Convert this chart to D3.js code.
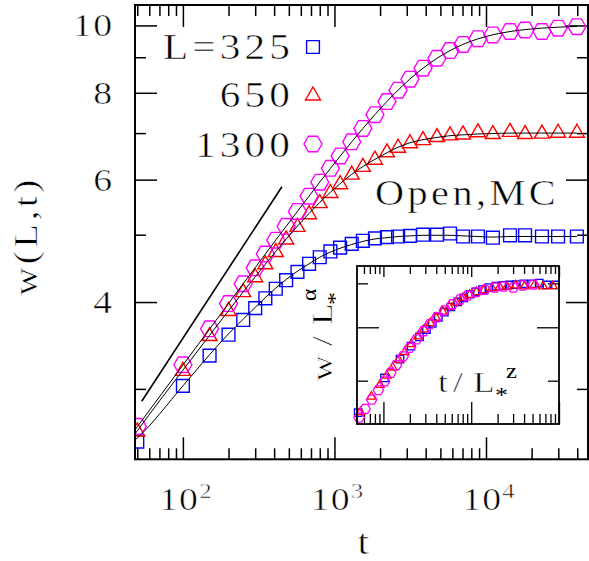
<!DOCTYPE html>
<html>
<head>
<meta charset="utf-8">
<script src="https://cdn.jsdelivr.net/npm/d3@7"></script>
<style>
  html, body { margin: 0; padding: 0; background: #fff; }
  svg { display: block; }
  text { font-family: "Liberation Serif", "Times New Roman", serif; font-weight: normal;
         stroke: #fff; stroke-width: 0.55px; paint-order: normal; }
  tspan.small { stroke: none; }
</style>
</head>
<body>
<svg id="chart" width="589" height="561"></svg>
<script>
// ---- data -------------------------------------------------------------
// sampling times shared by the three system sizes
const times = [50, 100, 150, 200, 250, 300, 350, 410, 480, 570, 680, 800, 940, 1090,
  1300, 1540, 1850, 2220, 2630, 3150, 3840, 4750, 5790, 7050, 8850, 11100, 14400,
  18100, 23400, 29900, 39800];
const sizes = [325, 650, 1300];
const seriesLabels = ["L=325", "650", "1300"];

// interface width w(L,t), Monte Carlo points
const width325 = [2.52, 3.03, 3.35, 3.59, 3.77, 3.92, 4.05, 4.18, 4.30, 4.42, 4.54, 4.64,
  4.73, 4.79, 4.85, 4.90, 4.94, 4.96, 4.97, 4.98, 5.00, 5.00, 5.02, 4.97, 4.97, 4.95,
  4.99, 4.99, 4.97, 4.97, 4.97];
const width650 = [2.61, 3.19, 3.58, 3.89, 4.14, 4.35, 4.54, 4.73, 4.93, 5.14, 5.36, 5.56,
  5.75, 5.92, 6.11, 6.27, 6.42, 6.58, 6.68, 6.78, 6.85, 6.92, 6.96, 6.98, 7.03, 6.99,
  7.04, 6.99, 7.00, 7.02, 7.02];
const width1300 = [2.65, 3.25, 3.66, 3.98, 4.25, 4.48, 4.69, 4.91, 5.14, 5.40, 5.68, 5.95,
  6.23, 6.49, 6.80, 7.11, 7.44, 7.77, 8.07, 8.37, 8.68, 8.97, 9.20, 9.39, 9.57, 9.69,
  9.80, 9.85, 9.80, 9.91, 9.96];

// smooth fitted curves
const fitTimes = [45, 50, 100, 150, 200, 250, 300, 350, 410, 480, 570, 680, 800, 940, 1090,
  1300, 1540, 1850, 2220, 2630, 3150, 3840, 4750, 5790, 7050, 8850, 11100, 14400,
  18100, 23400, 29900, 39800];
const fit325 = [2.50, 2.55, 3.03, 3.36, 3.60, 3.78, 3.93, 4.06, 4.19, 4.31, 4.43, 4.54, 4.64,
  4.72, 4.78, 4.84, 4.89, 4.93, 4.95, 4.97, 4.98, 4.99, 4.99, 4.99, 4.98, 4.97, 4.96,
  4.97, 4.97, 4.97, 4.97, 4.97];
const fit650 = [2.53, 2.611, 3.192, 3.582, 3.887, 4.137, 4.349, 4.535, 4.729, 4.927, 5.143,
  5.364, 5.564, 5.754, 5.920, 6.106, 6.266, 6.418, 6.56, 6.68, 6.78, 6.85, 6.90, 6.94,
  6.96, 6.98, 6.99, 7.00, 7.00, 7.00, 7.00, 7.00];
const fit1300 = [2.565, 2.646, 3.246, 3.658, 3.981, 4.250, 4.483, 4.690, 4.912, 5.140, 5.402,
  5.681, 5.951, 6.226, 6.485, 6.800, 7.109, 7.443, 7.773, 8.071, 8.374, 8.679, 8.970,
  9.200, 9.392, 9.565, 9.694, 9.800, 9.863, 9.912, 9.942, 9.965];

// t^(1/3) guide
const guideTimes = [53.5, 450];
const guideWidth = [2.88, 5.86];

// axis ticks of the main panel
const xMajor = [100, 1000, 10000];
const xMinor = [50, 60, 70, 80, 90, 200, 300, 400, 500, 600, 700, 800, 900,
  2000, 3000, 4000, 5000, 6000, 7000, 8000, 9000, 20000, 30000, 40000];
const yMajor = [4, 6, 8, 10];
const yMinor = [3, 5, 7, 9];
const yTickLabels = ["4", "6", "8", "10"];

// scaling collapse shown in the inset
const lStar = [455, 910, 1820];
const alpha = 0.5;
const zExp = 1.5;
const insetXMajor = [0.01, 0.1, 1];
const insetXMinor = [0.006, 0.007, 0.008, 0.009, 0.02, 0.03, 0.04, 0.05, 0.06, 0.07,
  0.08, 0.09, 0.2, 0.3, 0.4, 0.5, 0.6, 0.7, 0.8, 0.9];
const insetYMajor = [0.186];
const insetYMinor = [0.14, 0.235];

// ---- drawing ------------------------------------------------------------
const svg = d3.select("#chart");
const colors = ["#0000ff", "#ff0000", "#ff00ff"];
const values = [width325, width650, width1300];
const fits = [fit325, fit650, fit1300];
const TEXT_STRETCH = 1.18;

const plot = { left: 135, right: 588, top: 5, bottom: 459.3 };
const x = d3.scaleLog().domain([48.3, 47100]).range([plot.left, plot.right]);
const y = d3.scaleLog().domain([2.376, 10.70]).range([plot.bottom, plot.top]);

// marker outlines, r = overall scale
function markerPath(kind, r) {
  if (kind === 0) {
    const h = 6.4 * r;
    return `M${-h},${-h}H${h}V${h}H${-h}Z`;
  }
  if (kind === 1) {
    return `M0,${-8 * r}L${7.5 * r},${5 * r}L${-7.5 * r},${5 * r}Z`;
  }
  const R = 9 * r, s = R * Math.sqrt(3) / 2;
  return `M${R},0L${R / 2},${s}L${-R / 2},${s}L${-R},0L${-R / 2},${-s}L${R / 2},${-s}Z`;
}

// widened serif text with extra tracking
function textAt(parent, px, py, size, anchor, rotate, stretch, spacing) {
  const g = parent.append("g")
    .attr("transform", `translate(${px},${py}) rotate(${rotate || 0}) scale(${stretch || TEXT_STRETCH},1)`);
  return g.append("text")
    .attr("text-anchor", anchor)
    .attr("font-size", size)
    .attr("letter-spacing", spacing === undefined ? 2 : spacing)
    .attr("fill", "#000");
}

function ticks(parent, axisGen, transform, vals, len, sw) {
  parent.append("g")
    .attr("transform", transform)
    .call(axisGen.tickValues(vals).tickSize(len).tickSizeOuter(0).tickFormat(""))
    .call(g => g.select(".domain").remove())
    .call(g => g.selectAll("line").attr("stroke", "#000").attr("stroke-width", sw));
}

// main panel ticks on all four sides
ticks(svg, d3.axisBottom(x), `translate(0,${plot.bottom})`, xMajor, -22, 1.5);
ticks(svg, d3.axisBottom(x), `translate(0,${plot.bottom})`, xMinor, -11, 1.5);
ticks(svg, d3.axisTop(x), `translate(0,${plot.top})`, xMajor, -22, 1.5);
ticks(svg, d3.axisTop(x), `translate(0,${plot.top})`, xMinor, -11, 1.5);
ticks(svg, d3.axisLeft(y), `translate(${plot.left},0)`, yMajor, -22, 1.5);
ticks(svg, d3.axisLeft(y), `translate(${plot.left},0)`, yMinor, -11, 1.5);
ticks(svg, d3.axisRight(y), `translate(${plot.right},0)`, yMajor, -22, 1.5);
ticks(svg, d3.axisRight(y), `translate(${plot.right},0)`, yMinor, -11, 1.5);

// tick labels
xMajor.forEach(v => {
  const t = textAt(svg, x(v) + 3, 510, 32, "middle", 0, undefined, 1);
  t.append("tspan").text("10");
  t.append("tspan").attr("font-size", 21).attr("dy", -12).text(String(Math.round(Math.log10(v))));
});
yMajor.forEach((v, i) => {
  textAt(svg, 114, y(v) + 11, 32, "end", 0, undefined, 1.5).text(yTickLabels[i]);
});

// axis titles
textAt(svg, 364.5, 554, 35, "middle").text("t");
textAt(svg, 37, 236, 33, "middle", -90, undefined, 3).text("w(L,t)");

// data region
svg.append("clipPath").attr("id", "plotClip")
  .append("rect").attr("x", plot.left).attr("y", plot.top)
  .attr("width", plot.right - plot.left).attr("height", plot.bottom - plot.top);
const area = svg.append("g").attr("clip-path", "url(#plotClip)");

sizes.forEach((L, i) => {
  area.append("g").selectAll("path")
    .data(times.map((t, j) => ({ t, w: values[i][j] })))
    .join("path")
    .attr("transform", d => `translate(${x(d.t)},${y(d.w)})`)
    .attr("d", markerPath(i, 1))
    .attr("fill", "none")
    .attr("stroke", colors[i])
    .attr("stroke-width", 1.4);
});

const fitLine = d3.line().x(d => x(d.t)).y(d => y(d.w)).curve(d3.curveMonotoneX);
fits.forEach(f => {
  area.append("path")
    .datum(fitTimes.map((t, j) => ({ t, w: f[j] })))
    .attr("d", fitLine)
    .attr("fill", "none")
    .attr("stroke", "#000")
    .attr("stroke-width", 1);
});
area.append("path")
  .datum(guideTimes.map((t, j) => ({ t, w: guideWidth[j] })))
  .attr("d", d3.line().x(d => x(d.t)).y(d => y(d.w)))
  .attr("fill", "none")
  .attr("stroke", "#000")
  .attr("stroke-width", 1.6);

// frame
svg.append("rect")
  .attr("x", plot.left).attr("y", plot.top)
  .attr("width", plot.right - plot.left).attr("height", plot.bottom - plot.top)
  .attr("fill", "none").attr("stroke", "#000").attr("stroke-width", 2);

// legend
const legendRows = [47, 95, 144];
const legendBase = [59, 107, 157];
sizes.forEach((L, i) => {
  textAt(svg, 294, legendBase[i], 35, "end", 0, undefined, 3.5).text(seriesLabels[i]);
  svg.append("path")
    .attr("transform", `translate(313,${legendRows[i]})`)
    .attr("d", markerPath(i, 1))
    .attr("fill", "none")
    .attr("stroke", colors[i])
    .attr("stroke-width", 1.4);
});

textAt(svg, 375, 205, 35, "start", 0, 1.15, 3).text("Open,MC");

// ---- inset: collapse w/L*^alpha versus t/L*^z ------------------------------
const inset = { left: 357, right: 559, top: 266, bottom: 424 };
const ix = d3.scaleLog().domain([0.005, 1]).range([inset.left, inset.right]);
const iy = d3.scaleLog().domain([0.1112, 0.2577]).range([inset.bottom, inset.top]);

svg.append("rect")
  .attr("x", inset.left).attr("y", inset.top)
  .attr("width", inset.right - inset.left).attr("height", inset.bottom - inset.top)
  .attr("fill", "#fff");

ticks(svg, d3.axisBottom(ix), `translate(0,${inset.bottom})`, insetXMajor, -22, 1.3);
ticks(svg, d3.axisBottom(ix), `translate(0,${inset.bottom})`, insetXMinor, -10, 1.3);
ticks(svg, d3.axisTop(ix), `translate(0,${inset.top})`, insetXMajor, -11, 1.3);
ticks(svg, d3.axisTop(ix), `translate(0,${inset.top})`, insetXMinor, -8, 1.3);
ticks(svg, d3.axisLeft(iy), `translate(${inset.left},0)`, insetYMajor, -22, 1.3);
ticks(svg, d3.axisLeft(iy), `translate(${inset.left},0)`, insetYMinor, -11, 1.3);
ticks(svg, d3.axisRight(iy), `translate(${inset.right},0)`, insetYMajor, -22, 1.3);
ticks(svg, d3.axisRight(iy), `translate(${inset.right},0)`, insetYMinor, -11, 1.3);

sizes.forEach((L, i) => {
  const sx = Math.pow(lStar[i], zExp), sy = Math.pow(lStar[i], alpha);
  const pts = times.map((t, j) => ({ u: t / sx, v: values[i][j] / sy }))
    .filter(d => d.u >= 0.005 && d.u <= 1 && d.v >= 0.1112 && d.v <= 0.2577);
  svg.append("g").selectAll("path")
    .data(pts)
    .join("path")
    .attr("transform", d => `translate(${ix(d.u)},${iy(d.v)})`)
    .attr("d", markerPath(i, 0.58))
    .attr("fill", "none")
    .attr("stroke", colors[i])
    .attr("stroke-width", 1.3);
});

svg.append("rect")
  .attr("x", inset.left).attr("y", inset.top)
  .attr("width", inset.right - inset.left).attr("height", inset.bottom - inset.top)
  .attr("fill", "none").attr("stroke", "#000").attr("stroke-width", 1.8);

// inset axis labels
const s = TEXT_STRETCH;
const xl = textAt(svg, 438, 392, 30, "start", 0, s, 0);
xl.append("tspan").attr("x", 0).text("t");
xl.append("tspan").attr("x", 15 / s).text("/");
xl.append("tspan").attr("x", 35 / s).text("L");
xl.append("tspan").attr("class", "small").attr("x", 57 / s).attr("dy", 10).attr("font-size", 22).text("*");
xl.append("tspan").attr("class", "small").attr("x", 68 / s).attr("dy", -24).attr("font-size", 21).text("z");

const yl = textAt(svg, 332, 381, 30, "start", -90, s, 0);
yl.append("tspan").attr("x", 0).text("w");
yl.append("tspan").attr("x", 35 / s).text("/");
yl.append("tspan").attr("x", 56 / s).text("L");
yl.append("tspan").attr("class", "small").attr("x", 76 / s).attr("dy", 10).attr("font-size", 22).text("*");
yl.append("tspan").attr("class", "small").attr("x", 80 / s).attr("dy", -26).attr("font-size", 20).text("α");
</script>
</body>
</html>
